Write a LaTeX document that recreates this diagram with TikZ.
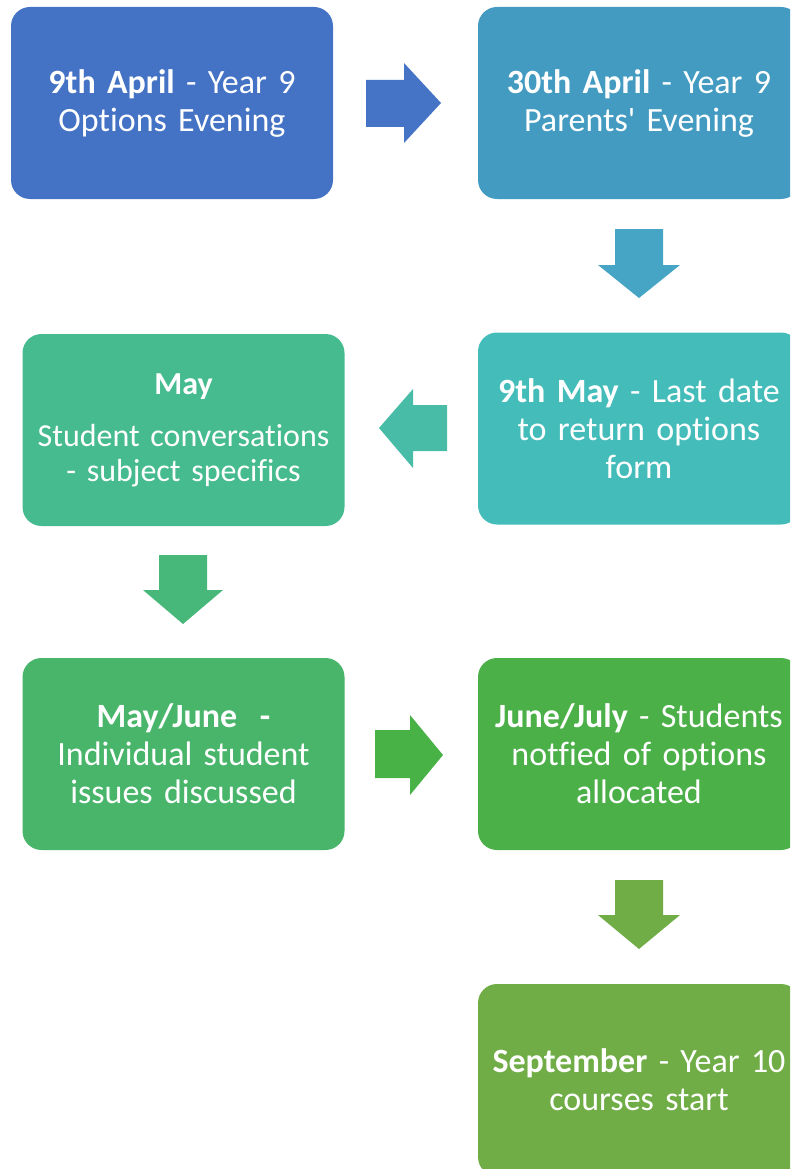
\documentclass[tikz,border=0pt]{standalone}
\usepackage{fontspec}
\setmainfont{Carlito}[Ligatures=NoCommon]
\definecolor{cA}{HTML}{4472C4}
\definecolor{aAB}{HTML}{4574C6}
\definecolor{cB}{HTML}{439BC1}
\definecolor{aBC}{HTML}{46A4C4}
\definecolor{cC}{HTML}{44BDBA}
\definecolor{aCD}{HTML}{48BCA6}
\definecolor{cD}{HTML}{45BB8F}
\definecolor{aDE}{HTML}{47B77A}
\definecolor{cE}{HTML}{48B56A}
\definecolor{aEF}{HTML}{48B246}
\definecolor{cF}{HTML}{4CB049}
\definecolor{cG}{HTML}{70AD47}
\begin{document}
\begin{tikzpicture}[x=1pt,y=-1pt,
  stagebox/.style={rectangle, rounded corners=19pt, minimum width=322pt, minimum height=192pt,
    text width=318pt, align=center, text=white, inner sep=0pt,
    font=\fontsize{34}{38}\selectfont}]
\useasboundingbox (0,0) rectangle (790,1169);
\clip (0,0) rectangle (790,1169);
\node[stagebox, fill=cA] (A) at (172,103) {\textbf{9th April} - Year 9\\Options Evening};
\node[stagebox, fill=cB] (B) at (639,103) {\textbf{30th April} - Year 9\\Parents\textquotesingle{} Evening};
\node[stagebox, fill=cC] (C) at (639,428.5) {\textbf{9th May} - Last date\\to return options\\form};
\node[stagebox, fill=cD, font=\fontsize{32}{35}\selectfont] (D) at (183.5,430) {\textbf{May}\\[17pt]Student conversations\\- subject specifics};
\node[stagebox, fill=cE] (E) at (183.5,754) {\textbf{May/June}\ \ \textbf{-}\\Individual student\\issues discussed};
\node[stagebox, fill=cF] (F) at (639,754) {\textbf{June/July} - Students\\notfied of options\\allocated};
\node[stagebox, fill=cG] (G) at (639,1080) {\textbf{September} - Year 10\\courses start};
% block arrows
\fill[aAB] (366,80) -- (404,80) -- (404,63) -- (441,103) -- (404,143) -- (404,127) -- (366,127) -- cycle;
\fill[aBC] (615,229) -- (663,229) -- (663,265) -- (680,265) -- (639,298) -- (598,265) -- (615,265) -- cycle;
\fill[aCD] (447,405) -- (447,451) -- (413,451) -- (413,468) -- (379,428) -- (413,389) -- (413,405) -- cycle;
\fill[aDE] (159,555) -- (207,555) -- (207,590) -- (223,590) -- (183,624) -- (143,590) -- (159,590) -- cycle;
\fill[aEF] (375,730) -- (410,730) -- (410,715) -- (443,755) -- (410,795) -- (410,778) -- (375,778) -- cycle;
\fill[cG] (615,880) -- (663,880) -- (663,915) -- (680,915) -- (639,949) -- (598,915) -- (615,915) -- cycle;
\end{tikzpicture}
\end{document}
